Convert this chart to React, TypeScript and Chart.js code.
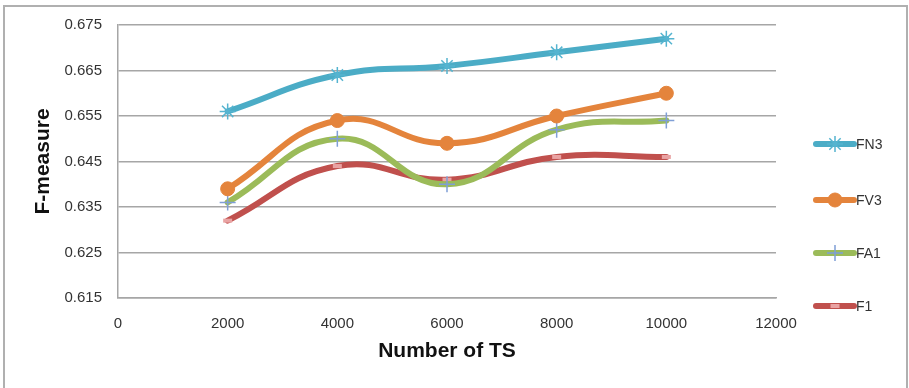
import { useEffect, useRef } from "react";
import { Chart, registerables } from "chart.js";
import { drawPoint } from "chart.js/helpers";

Chart.register(...registerables);

const TS = [2000, 4000, 6000, 8000, 10000];
const FN3 = [0.656, 0.664, 0.666, 0.669, 0.672];
const FV3 = [0.639, 0.654, 0.649, 0.655, 0.66];
const FA1 = [0.636, 0.65, 0.64, 0.652, 0.654];
const F1 = [0.632, 0.644, 0.641, 0.646, 0.646];
const SERIES_NAMES = ["FN3", "FV3", "FA1", "F1"];
const Y_TICKS = [0.615, 0.625, 0.635, 0.645, 0.655, 0.665, 0.675];
const X_TICKS = [0, 2000, 4000, 6000, 8000, 10000, 12000];
const X_TITLE = "Number of TS";
const Y_TITLE = "F-measure";

const LINE_COLORS = ["#4bacc6", "#e4843c", "#9bbb59", "#c0504d"];
const MARKER_STYLES = [
  { pointStyle: "star", radius: 8, color: "#55b4d0", borderWidth: 1.5 },
  { pointStyle: "circle", radius: 7, color: "#e4843c", borderWidth: 1 },
  { pointStyle: "cross", radius: 8, color: "#7f9fd6", borderWidth: 1.5 },
  { pointStyle: "line", radius: 4.5, color: "#e9a3a3", borderWidth: 4 },
];
const LEGEND_YS = [144, 200, 253, 306];

const FONT = "'Liberation Sans', Arial, sans-serif";

const legendPlugin = {
  id: "sideLegend",
  afterDraw(chart: any) {
    const ctx = chart.ctx;
    const area = chart.chartArea;
    const x0 = area.right + 40;
    const x1 = x0 + 38;
    ctx.save();
    SERIES_NAMES.forEach((name, i) => {
      const y = LEGEND_YS[i];
      ctx.lineCap = "round";
      ctx.strokeStyle = LINE_COLORS[i];
      ctx.lineWidth = 6;
      ctx.beginPath();
      ctx.moveTo(x0, y);
      ctx.lineTo(x1, y);
      ctx.stroke();
      const m = MARKER_STYLES[i];
      ctx.lineCap = "butt";
      ctx.fillStyle = m.color;
      ctx.strokeStyle = m.color;
      ctx.lineWidth = m.borderWidth;
      drawPoint(
        ctx,
        { pointStyle: m.pointStyle as any, rotation: 0, radius: m.radius, borderWidth: m.borderWidth },
        (x0 + x1) / 2,
        y
      );
      ctx.fillStyle = "#333333";
      ctx.font = `14px ${FONT}`;
      ctx.textAlign = "left";
      ctx.textBaseline = "middle";
      ctx.fillText(name, x1 + 2, y + 1);
    });
    ctx.restore();
  },
};

export default function App() {
  const canvasRef = useRef<HTMLCanvasElement | null>(null);

  useEffect(() => {
    document.body.style.margin = "0";
    const canvas = canvasRef.current;
    if (!canvas) return;
    const seriesValues = [FN3, FV3, FA1, F1];
    const chart = new Chart(canvas, {
      type: "line",
      data: {
        datasets: SERIES_NAMES.map((name, i) => ({
          label: name,
          data: TS.map((t, j) => ({ x: t, y: seriesValues[i][j] })),
          borderColor: LINE_COLORS[i],
          borderWidth: 6,
          borderCapStyle: "round",
          tension: 0.45,
          pointStyle: MARKER_STYLES[i].pointStyle as any,
          pointRadius: MARKER_STYLES[i].radius,
          pointBackgroundColor: MARKER_STYLES[i].color,
          pointBorderColor: MARKER_STYLES[i].color,
          pointBorderWidth: MARKER_STYLES[i].borderWidth,
          fill: false,
        })),
      },
      options: {
        animation: false,
        responsive: true,
        maintainAspectRatio: false,
        events: [],
        layout: { padding: { top: 25, right: 133, left: 0, bottom: 0 } },
        plugins: {
          legend: { display: false },
          tooltip: { enabled: false },
        },
        scales: {
          x: {
            type: "linear",
            min: 0,
            max: 12000,
            afterBuildTicks: (s: any) => {
              s.ticks = X_TICKS.map((v) => ({ value: v }));
            },
            afterFit: (s: any) => {
              s.height = 90;
            },
            grid: { display: false, drawTicks: false },
            border: { display: true, color: "#a6a6a6", width: 1.5 },
            ticks: {
              padding: 17,
              color: "#333333",
              font: { family: FONT, size: 15 },
              maxRotation: 0,
              callback: (v: any) => String(v),
            },
            title: {
              display: true,
              text: X_TITLE,
              color: "#111111",
              font: { family: FONT, size: 21, weight: "bold" },
              padding: { top: 0, bottom: 24 },
            },
          },
          y: {
            type: "linear",
            min: 0.615,
            max: 0.675,
            afterBuildTicks: (s: any) => {
              s.ticks = Y_TICKS.map((v) => ({ value: v }));
            },
            afterFit: (s: any) => {
              s.width = 118;
            },
            grid: { color: "#a6a6a6", lineWidth: 1.5, drawTicks: false },
            border: { display: true, color: "#a6a6a6", width: 1.5 },
            ticks: {
              padding: 16,
              color: "#333333",
              font: { family: FONT, size: 15 },
              callback: (v: any) => Number(v).toFixed(3),
            },
            title: {
              display: true,
              text: Y_TITLE,
              color: "#111111",
              font: { family: FONT, size: 21, weight: "bold" },
              padding: { top: 31, bottom: 0 },
            },
          },
        },
      },
      plugins: [legendPlugin],
    });
    return () => chart.destroy();
  }, []);

  return (
    <div style={{ position: "relative", width: 909, height: 388, overflow: "hidden", background: "#fff" }}>
      <canvas ref={canvasRef} />
      <div
        style={{
          position: "absolute",
          left: 3,
          top: 5,
          width: 905,
          height: 420,
          boxSizing: "border-box",
          border: "2px solid #b0b0b0",
          pointerEvents: "none",
        }}
      />
    </div>
  );
}
